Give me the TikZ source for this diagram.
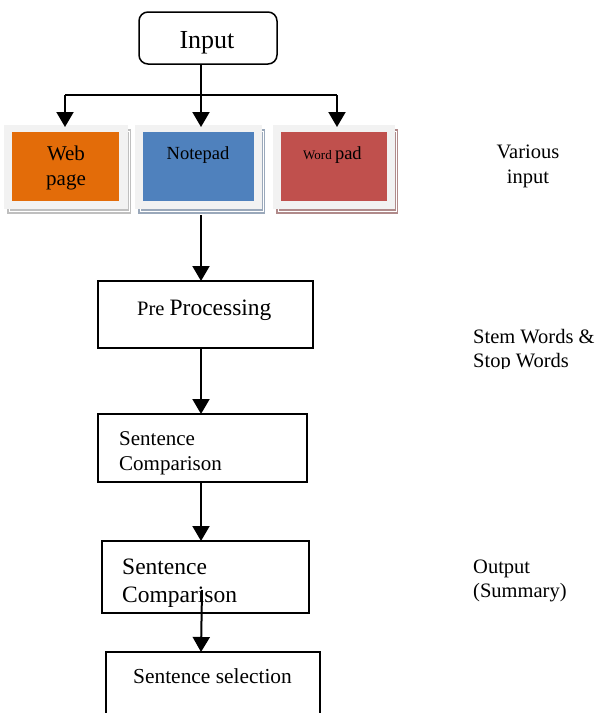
\documentclass[tikz,border=0pt]{standalone}
\usepackage{fontspec}
\setmainfont{Liberation Serif}
\usetikzlibrary{arrows.meta}
\definecolor{cOrange}{HTML}{E36C09}
\definecolor{cBlue}{HTML}{4F81BD}
\definecolor{cRed}{HTML}{C0504D}
\definecolor{cFrame}{HTML}{F2F2F2}
\definecolor{shGray}{HTML}{BFBFBF}
\definecolor{shBlue}{HTML}{9AA8BA}
\definecolor{shRed}{HTML}{B08A8A}
\tikzset{
  bigtip/.tip={Triangle[width=17pt,length=15pt]},
  box/.style={draw=black, line width=1.5pt, fill=white},
  conn/.style={line width=2pt, -bigtip},
  line/.style={line width=2pt},
  txt/.style={inner sep=0pt, anchor=base west},
  ctxt/.style={inner sep=0pt, anchor=base},
}
\begin{document}
\begin{tikzpicture}[x=1pt,y=-1pt]
\useasboundingbox (0,0) rectangle (602,713);
\clip (0,0) rectangle (602,713);
% Input
\draw[box, rounded corners=9pt] (139,12) rectangle (277,64);
\node[ctxt, font=\fontsize{26}{30}\selectfont] (inp) at (207,48) {Input};
\coordinate (inB) at (201,64);
\coordinate (split) at (201,95);
\coordinate (sl) at (65,95);
\coordinate (sr) at (337,95);
% cards
\foreach \xa/\xb/\xc/\xd/\sh/\fc in {4/128/12/119/shGray/cOrange, 135/262/143/254/shBlue/cBlue, 273/395/281/387/shRed/cRed}{
  \fill[\sh] (\xa+3,129) rectangle (\xb+3,214);
  \draw[white, line width=0.6pt] (\xa+5,131) rectangle (\xb+1,211);
  \fill[cFrame] (\xa,125) rectangle (\xb,209);
  \fill[\fc] (\xc,132) rectangle (\xd,201);
}
\coordinate (webT) at (65,127);
\coordinate (noteT) at (201,127);
\coordinate (wordT) at (337,127);
\coordinate (noteB) at (201,215);
\node[ctxt, font=\fontsize{21}{24}\selectfont] (web1) at (66,160) {Web};
\node[ctxt, font=\fontsize{21}{24}\selectfont] (web2) at (66,185) {page};
\node[ctxt, font=\fontsize{18.5}{22}\selectfont] (note) at (198,159) {Notepad};
\node[txt] (word) at (303,159) {\fontsize{13}{16}\selectfont Word \fontsize{18.5}{22}\selectfont pad};
% connectors top
\draw[line] (inB) -- (split);
\draw[line] (sl) -- (sr);
\draw[conn] (split) -- (noteT);
\draw[conn] (sl) -- (webT);
\draw[conn] (sr) -- (wordT);
% Pre processing
\draw[box] (98,281) rectangle (313,348);
\coordinate (preT) at (201,281);
\coordinate (preB) at (201,348);
\node[txt] (pre) at (137,315) {\fontsize{20.5}{24}\selectfont Pre \fontsize{23.5}{28}\selectfont Processing};
\draw[conn] (noteB) -- (preT);
% box 1
\draw[box] (98,414) rectangle (307,482);
\coordinate (b1T) at (201,414);
\coordinate (b1B) at (201,482);
\node[txt, font=\fontsize{21}{24}\selectfont] (b1a) at (119,445) {Sentence};
\node[txt, font=\fontsize{21}{24}\selectfont] (b1b) at (119,470) {Comparison};
\draw[conn] (preB) -- (b1T);
% box 2
\draw[box] (102,541) rectangle (309,613);
\coordinate (b2T) at (201,541);
\coordinate (b2M) at (202,590);
\node[txt, font=\fontsize{23.5}{27}\selectfont] (b2a) at (122,574) {Sentence};
\node[txt, font=\fontsize{23.5}{27}\selectfont] (b2b) at (122,602) {Comparison};
\draw[conn] (b1B) -- (b2T);
% box 3
\draw[box] (106,652) rectangle (320,730);
\coordinate (b3T) at (201,652);
\node[txt, font=\fontsize{21.4}{25}\selectfont] (b3) at (133,683) {Sentence selection};
\draw[conn] (b2M) -- (b3T);
% right labels
\node[ctxt, font=\fontsize{20.5}{24}\selectfont] (v1) at (528,158) {Various};
\node[ctxt, font=\fontsize{20.5}{24}\selectfont] (v2) at (528,183) {input};
\node[txt, font=\fontsize{20.5}{24}\selectfont] (s1) at (473,343) {Stem Words \&};
\begin{scope}
\clip (460,350) rectangle (602,368);
\node[txt, font=\fontsize{20.5}{24}\selectfont] (s2) at (473,367) {Stop Words};
\end{scope}
\node[txt, font=\fontsize{20.5}{24}\selectfont] (o1) at (473,573) {Output};
\node[txt, font=\fontsize{20.5}{24}\selectfont] (o2) at (473,597) {(Summary)};
\end{tikzpicture}
\end{document}
